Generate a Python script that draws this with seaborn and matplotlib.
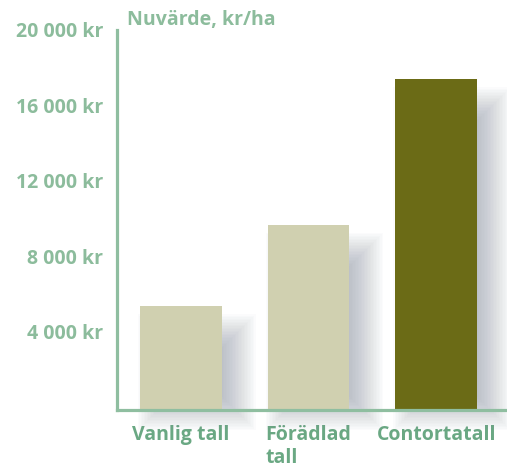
import seaborn as sns
import pandas as pd
import numpy as np
import matplotlib.pyplot as plt

# values
categories = ["Vanlig tall", "Förädlad\ntall", "Contortatall"]
values = [5500, 9800, 17500]
bar_colors = ["#d0d0b0", "#d0d0b0", "#6b6b16"]
yticks = [4000, 8000, 12000, 16000, 20000]
ytick_labels = ["4 000 kr", "8 000 kr", "12 000 kr", "16 000 kr", "20 000 kr"]

sns.set_theme(style="white")
plt.rcParams["font.family"] = ["Open Sans", "DejaVu Sans"]

green_axis = "#8fbea0"
green_tick = "#8cbc9c"
green_cat = "#6aa883"

df = pd.DataFrame({"art": categories, "nuvarde": values})

fig = plt.figure(figsize=(5.07, 4.68), dpi=100)
ax = fig.add_axes([0.2308, 0.1239, 0.7692, 0.812])

sns.barplot(data=df, x="art", y="nuvarde", hue="art", palette=bar_colors,
            legend=False, width=0.64, saturation=1, linewidth=0, ax=ax, zorder=3)

ax.set_xlim(-0.5, 2.555)
ax.set_ylim(0, 20100)

# soft drop shadow behind each bar: stacked translucent rectangles (fake blur)
px_x = 1 / 128.0      # category units per pixel
px_y = 20100 / 380.0  # value units per pixel
for i, v in enumerate(values):
    for k in range(25):
        inset = -18 + 1.5 * k
        left = i - 0.32 + (16 + inset) * px_x
        right = i + 0.32 + (16 - inset) * px_x
        bottom = -(2 - inset) * px_y
        top = v - (26 + inset) * px_y
        if right <= left or top <= bottom:
            continue
        ax.bar(left, top - bottom, width=right - left, bottom=bottom,
               align="edge", color="#767c90", alpha=0.024, linewidth=0,
               zorder=1, clip_on=False)

for s in ["top", "right"]:
    ax.spines[s].set_visible(False)
for s in ["left", "bottom"]:
    ax.spines[s].set_color(green_axis)
    ax.spines[s].set_linewidth(2.3)
    ax.spines[s].set_zorder(4)

ax.set_yticks(yticks)
ax.set_yticklabels(ytick_labels)
ax.tick_params(axis="y", length=0, pad=10, labelsize=14, labelcolor=green_tick)
ax.tick_params(axis="x", length=0, pad=11, labelsize=14, labelcolor=green_cat)
for lab in ax.get_yticklabels():
    lab.set_fontweight("bold")
    lab.set_va("center")
for lab in ax.get_xticklabels():
    lab.set_fontweight("bold")
    lab.set_multialignment("left")
    lab.set_linespacing(1.2)
ax.set_xlabel("")
ax.set_ylabel("")
ax.patch.set_alpha(0)

fig.text(0.2505, 0.957, "Nuvärde, kr/ha", color=green_tick, fontsize=14,
         fontweight="bold", ha="left", va="center")

fig.savefig("out.png", dpi=100)
